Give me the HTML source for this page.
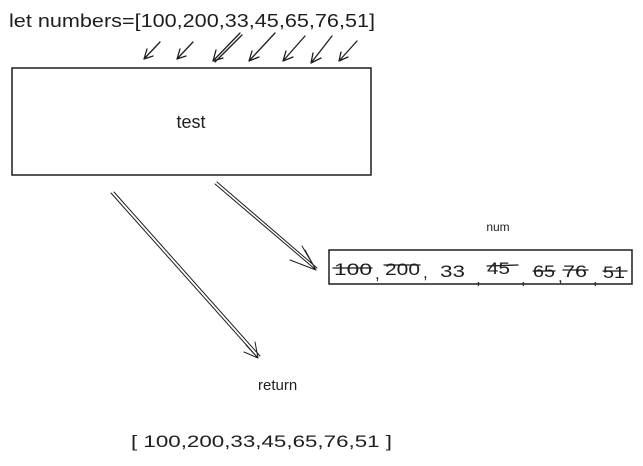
<!DOCTYPE html>
<html><head><meta charset="utf-8"><style>
html,body{margin:0;padding:0;background:#fff;width:643px;height:466px;overflow:hidden}
text{font-family:"Liberation Sans",sans-serif;fill:#1e1e1e}
</style></head><body>
<svg width="643" height="466" viewBox="0 0 643 466">
<g stroke="#1e1e1e" fill="none" stroke-linecap="round">
<text x="9" y="27" font-size="18" textLength="366" lengthAdjust="spacingAndGlyphs" stroke="none">let numbers=[100,200,33,45,65,76,51]</text>
<g stroke-width="1.3">
<path d="M160 42 L144 59 M144 59 L147 49 M144 59 L153 56"/>
<path d="M193 42 L177 59 M177 59 L180 49 M177 59 L186 56"/>
<path d="M240 33 L213 61 M242 35 L215 62 M213 61 L216 50 M213 61 L223 58"/>
<path d="M275 33 L249 61 M249 61 L252 51 M249 61 L259 57"/>
<path d="M305 36 L283 61 M283 61 L286 51 M283 61 L293 57"/>
<path d="M332 36 L311 63 M311 63 L313 53 M311 63 L321 58"/>
<path d="M357 41 L339 61 M339 61 L341 52 M339 61 L348 57"/>
</g>
<rect x="12" y="68" width="359" height="107" stroke-width="1.5"/>
<text x="191" y="128" font-size="18" text-anchor="middle" stroke="none">test</text>
<g stroke-width="1">
<path d="M111 193 L258 358 M114 192 L260 356 M258 358 L246 345 M258 358 L244 352 M258 358 L255 342"/>
</g>
<g stroke-width="1">
<path d="M215 184 L316 270 M217 182 L317 268 M316 270 L302 246 M316 270 L290 260 M316 270 L305 250"/>
</g>
<text x="498" y="231" font-size="12" text-anchor="middle" stroke="none">num</text>
<rect x="329" y="250" width="303" height="34" stroke-width="1.5"/>
<g font-size="17">
<text x="334" y="275" stroke="none" textLength="38" lengthAdjust="spacingAndGlyphs">100</text>
<text x="375" y="279" stroke="none">,</text>
<text x="385" y="275" stroke="none" textLength="35" lengthAdjust="spacingAndGlyphs">200</text>
<text x="423" y="278" stroke="none">,</text>
<text x="440" y="277" stroke="none" textLength="25" lengthAdjust="spacingAndGlyphs">33</text>
<text x="476" y="284" stroke="none">,</text>
<text x="487" y="274" stroke="none" textLength="23" lengthAdjust="spacingAndGlyphs">45</text>
<text x="521" y="284" stroke="none">,</text>
<text x="533" y="277" stroke="none" textLength="22" lengthAdjust="spacingAndGlyphs">65</text>
<text x="558" y="282" stroke="none">,</text>
<text x="563" y="277" stroke="none" textLength="24" lengthAdjust="spacingAndGlyphs">76</text>
<text x="593" y="284" stroke="none">,</text>
<text x="603" y="278" stroke="none" textLength="22" lengthAdjust="spacingAndGlyphs">51</text>
<path stroke-width="1.3" d="M333 268 L372 268 M384 265 L420 265 M487 266 L518 265 M533 271 L555 271 M563 270 L588 270 M603 271 L627 271"/>
</g>
<text x="258" y="390" font-size="15" stroke="none">return</text>
<text x="131" y="447" font-size="17" textLength="261" lengthAdjust="spacingAndGlyphs" stroke="none">[ 100,200,33,45,65,76,51 ]</text>
</g>
</svg>
</body></html>
